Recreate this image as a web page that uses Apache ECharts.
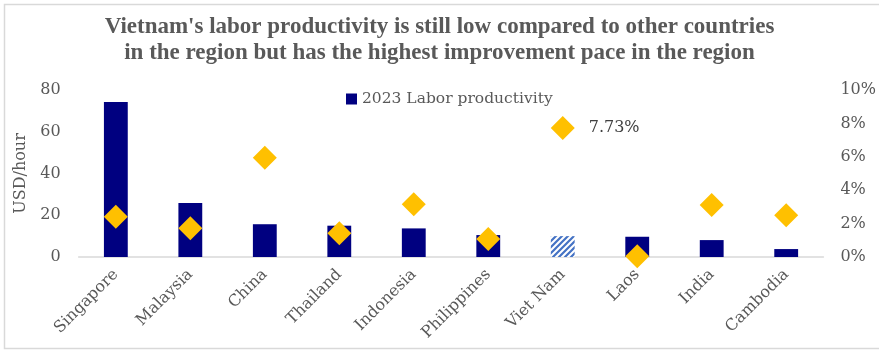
<!DOCTYPE html>
<html>
<head>
<meta charset="utf-8">
<script src="https://cdn.jsdelivr.net/npm/echarts@6/dist/echarts.min.js"></script>
<style>
  html, body { margin: 0; padding: 0; background: #fff; }
  #chart { width: 879px; height: 351px; }
</style>
</head>
<body>
<div id="chart"></div>
<script>
// Labor productivity 2023 (USD/hour) and productivity growth rate (%)
const countries = ['Singapore', 'Malaysia', 'China', 'Thailand', 'Indonesia', 'Philippines', 'Viet Nam', 'Laos', 'India', 'Cambodia'];
const productivity = [74.2, 25.9, 15.7, 15.0, 13.7, 10.5, 10.0, 9.7, 8.1, 3.8];
const growthPct = [2.41, 1.72, 5.95, 1.42, 3.16, 1.08, 7.73, 0.05, 3.11, 2.50];
const highlightCountry = 'Viet Nam';

const TITLE_FONT = '"Liberation Serif", "DejaVu Serif", serif';
const FONT = '"DejaVu Serif", "Liberation Serif", serif';
const GREY = '#595959';
const NAVY = '#000080';

// Diagonal stripe fill for the highlighted bar
function stripePattern() {
  const c = document.createElement('canvas');
  c.width = 6; c.height = 6;
  const g = c.getContext('2d');
  g.fillStyle = '#ffffff';
  g.fillRect(0, 0, 6, 6);
  g.strokeStyle = '#4472C4';
  g.lineWidth = 2.2;
  g.beginPath();
  g.moveTo(-1, 7); g.lineTo(7, -1);
  g.moveTo(-4, 4); g.lineTo(4, -4);
  g.moveTo(2, 10); g.lineTo(10, 2);
  g.stroke();
  return c;
}
const stripes = stripePattern();

const barData = productivity.map((v, i) => countries[i] === highlightCountry
  ? { value: v, itemStyle: { color: { image: stripes, repeat: 'repeat' } } }
  : v);

const growthData = growthPct.map((v, i) => countries[i] === highlightCountry
  ? { value: v, label: { show: true, position: 'right', distance: 14, formatter: v.toFixed(2) + '%', fontFamily: FONT, fontSize: 16, color: '#404040' } }
  : v);

const chart = echarts.init(document.getElementById('chart'), null, { renderer: 'canvas' });
chart.setOption({
  backgroundColor: '#ffffff',
  animation: false,
  title: {
    text: "Vietnam's labor productivity is still low compared to other countries\nin the region but has the highest improvement pace in the region",
    left: 'center',
    top: 9,
    textStyle: { fontFamily: TITLE_FONT, fontWeight: 'bold', fontSize: 23, color: GREY, lineHeight: 26 }
  },
  graphic: [{
    type: 'rect',
    shape: { x: 4.5, y: 4.5, width: 880, height: 344 },
    style: { fill: 'none', stroke: '#d9d9d9', lineWidth: 1.5 },
    silent: true
  }],
  legend: {
    data: [{ name: '2023 Labor productivity', icon: 'rect', itemStyle: { color: NAVY } }],
    left: 341,
    top: 86,
    itemWidth: 11,
    itemHeight: 11,
    itemGap: 5,
    textStyle: { fontFamily: FONT, fontSize: 15.5, color: GREY }
  },
  grid: { left: 78.6, right: 52.6, top: 90, bottom: 94, containLabel: false },
  xAxis: {
    type: 'category',
    data: countries,
    axisLine: { lineStyle: { color: '#d9d9d9', width: 1.5 } },
    axisTick: { show: false },
    axisLabel: { rotate: 45, interval: 0, fontFamily: FONT, fontSize: 16, color: GREY, margin: 15 }
  },
  yAxis: [{
    type: 'value',
    min: 0, max: 80, interval: 20,
    name: 'USD/hour',
    nameLocation: 'middle',
    nameGap: 49,
    nameRotate: 90,
    nameTextStyle: { fontFamily: FONT, fontSize: 16, color: GREY },
    axisLine: { show: false },
    axisTick: { show: false },
    splitLine: { show: false },
    axisLabel: { fontFamily: FONT, fontSize: 16, color: GREY, margin: 18 }
  }, {
    type: 'value',
    min: 0, max: 10, interval: 2,
    position: 'right',
    axisLine: { show: false },
    axisTick: { show: false },
    splitLine: { show: false },
    axisLabel: { fontFamily: FONT, fontSize: 16, color: GREY, margin: 17, formatter: '{value}%' }
  }],
  series: [{
    name: '2023 Labor productivity',
    type: 'bar',
    yAxisIndex: 0,
    barWidth: '32%',
    itemStyle: { color: NAVY },
    data: barData
  }, {
    name: 'Growth',
    type: 'scatter',
    yAxisIndex: 1,
    symbol: 'diamond',
    symbolSize: 24,
    itemStyle: { color: '#FFC000', opacity: 1 },
    data: growthData,
    z: 5
  }]
});
</script>
</body>
</html>
